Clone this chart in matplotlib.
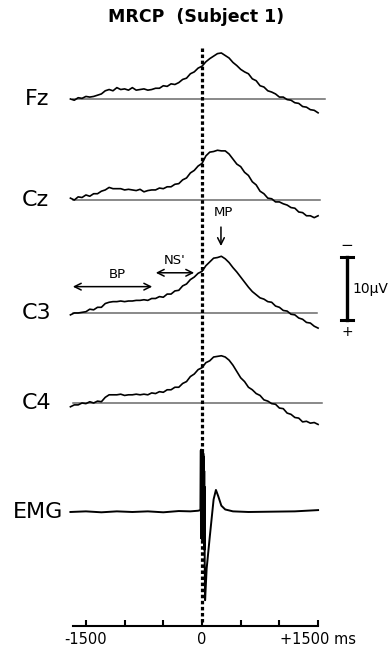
import numpy as np
import matplotlib
matplotlib.use('Agg')
import matplotlib.pyplot as plt

# sample times (ms) for the MRCP traces
times = np.arange(-1700, 1501, 50)

# averaged potentials in µV (negativity plotted upwards)
fz = [0.0, -0.2, 0.2, 0.1, 0.4, 0.3, 0.4, 0.6, 0.8, 1.3,
      1.5, 1.3, 1.8, 1.5, 1.6, 1.4, 1.8, 1.4, 1.5, 1.6,
      1.4, 1.5, 1.7, 1.7, 2.1, 2.0, 2.4, 2.3, 2.6, 3.1,
      3.3, 4.0, 4.3, 4.9, 5.2, 5.9, 6.4, 6.8, 7.2, 7.3,
      6.9, 6.5, 5.8, 5.3, 4.7, 4.3, 4.0, 3.2, 2.9, 2.1,
      1.9, 1.3, 1.1, 0.8, 0.3, 0.3, -0.1, -0.2, -0.6, -0.7,
      -1.2, -1.3, -1.7, -1.8, -2.2]
cz = [0.3, 0.0, 0.5, 0.4, 0.8, 0.6, 1.0, 1.0, 1.4, 1.6,
      2.0, 1.8, 1.8, 1.8, 1.6, 1.7, 1.6, 1.5, 1.7, 1.3,
      1.5, 1.6, 1.6, 1.9, 1.8, 2.1, 2.1, 2.5, 2.6, 3.2,
      3.5, 4.3, 4.7, 5.4, 5.8, 7.0, 7.6, 7.7, 7.9, 7.8,
      7.8, 7.3, 6.5, 5.7, 5.3, 4.4, 3.9, 2.9, 2.4, 1.4,
      1.0, 0.3, 0.2, -0.3, -0.3, -0.6, -0.8, -1.2, -1.3, -1.9,
      -2.0, -2.5, -2.5, -2.8, -2.5]
c3 = [-0.3, 0.0, 0.0, 0.1, 0.2, 0.6, 0.5, 0.9, 0.9, 1.5,
      1.7, 1.8, 1.8, 1.9, 1.8, 1.9, 1.9, 2.0, 2.0, 2.1,
      2.0, 2.3, 2.3, 2.6, 2.5, 3.0, 3.0, 3.5, 3.6, 4.3,
      4.6, 5.3, 5.7, 6.3, 6.6, 7.5, 8.1, 8.7, 8.8, 9.0,
      8.6, 8.0, 7.2, 6.5, 5.7, 4.9, 4.1, 3.4, 2.9, 2.4,
      2.2, 1.8, 1.7, 1.1, 0.9, 0.4, 0.3, -0.2, -0.3, -0.8,
      -1.0, -1.5, -1.6, -2.1, -2.4]
c4 = [-0.6, -0.3, -0.3, 0.0, -0.1, 0.2, 0.0, 0.3, 0.2, 0.9,
      1.3, 1.3, 1.3, 1.4, 1.2, 1.3, 1.3, 1.4, 1.3, 1.4,
      1.3, 1.6, 1.5, 1.8, 1.7, 2.1, 2.1, 2.5, 2.5, 3.1,
      3.4, 4.2, 4.6, 5.3, 5.6, 6.4, 6.7, 7.3, 7.4, 7.5,
      7.3, 6.8, 6.0, 5.0, 4.0, 3.4, 2.5, 2.1, 1.5, 1.2,
      0.5, 0.3, -0.1, -0.2, -0.8, -0.9, -1.6, -1.8, -2.3, -2.4,
      -3.0, -2.9, -3.2, -3.1, -3.4]

# EMG (arbitrary units, same vertical scale)
emg_t = [-1700, -1500, -1300, -1100, -900, -700, -500, -300, -150, -50,
         -20, -15, -13, -11, -9, -7, -5, -3, -1, 1, 3, 5, 7, 9, 11, 13,
         15, 17, 19, 21, 23, 25, 27, 29, 31, 33, 35, 40, 60, 100, 150,
         180, 210, 250, 300, 400, 600, 900, 1200, 1500]
emg_v = [0.0, 0.1, -0.05, 0.1, 0.0, 0.1, -0.05, 0.15, 0.1, 0.2,
         0.3, 9.8, -4.0, 9.9, -4.2, 9.7, -3.9, 9.8, -4.3, 9.6, -4.0, 9.8,
         -4.1, 9.5, -3.8, 9.7, -4.2, 9.3, -4.5, 8.8, -4.6, 8.0, -5.0, 6.5,
         -6.0, 4.0, -8.0, -14.0, -9.0, -4.0, 2.0,
         3.5, 2.5, 1.0, 0.4, 0.1, 0.0, 0.05, 0.1, 0.3]

names = ['Fz', 'Cz', 'C3', 'C4', 'EMG']
traces = [fz, cz, c3, c4]

# layout: vertical offsets in µV units (6.3 px per µV), label x in px
offsets = [15.71, 31.75, 49.68, 63.97, 81.27]
label_x = [25, 22, 22, 22, 13]
base_end = [1590, 1520, 1490, 1550]

fig = plt.figure(figsize=(3.92, 6.48), dpi=100)
ax = fig.add_axes([0, 0, 1, 1])
ax.set_xlim(-2610, 2455)
ax.set_ylim(102.86, 0)

for vals, off, end in zip(traces, offsets, base_end):
    ax.plot([-1670, end], [off, off], color='#6a6a6a', lw=1.1)
    ax.plot(times, off - np.array(vals), color='black', lw=1.2)

ax.plot(emg_t, offsets[4] - np.array(emg_v), color='black', lw=1.4)

ytr = ax.get_yaxis_transform()
for name, off, lx in zip(names, offsets, label_x):
    ax.text(lx / 392, off, name, transform=ytr, fontsize=16,
            va='center', ha='left')

# movement onset
ax.plot([0, 0], [7.6, 98.7], color='black', lw=2.3, ls=(0, (1.1, 0.8)))

# component annotations
ax.text(271, 33.8, 'MP', fontsize=9.5, ha='center', va='center')
ax.annotate('', xy=(245, 39.5), xytext=(245, 35.6),
            arrowprops=dict(arrowstyle='->', lw=1.1, mutation_scale=12))
ax.text(-349, 41.3, "NS'", fontsize=9.5, ha='center', va='center')
ax.annotate('', xy=(-633, 43.3), xytext=(-65, 43.3),
            arrowprops=dict(arrowstyle='<->', lw=1.1, mutation_scale=12))
ax.text(-1098, 43.65, 'BP', fontsize=9.5, ha='center', va='center')
ax.annotate('', xy=(-1705, 45.5), xytext=(-607, 45.5),
            arrowprops=dict(arrowstyle='<->', lw=1.1, mutation_scale=12))

# 10 µV calibration bar
bar_x, bar_top, bar_uv = 1873, 40.8, 10
ax.plot([bar_x, bar_x], [bar_top, bar_top + bar_uv], color='black', lw=2.4)
for yy in (bar_top, bar_top + bar_uv):
    ax.plot([bar_x - 80, bar_x + 80], [yy, yy], color='black', lw=2.2)
ax.text(bar_x, bar_top - 1.9, '\u2212', fontsize=11, ha='center', va='center')
ax.text(bar_x, bar_top + bar_uv + 1.9, '+', fontsize=10, ha='center', va='center')
ax.text(bar_x + 65, bar_top + bar_uv / 2, '10\u00b5V', fontsize=10,
        ha='left', va='center')

fig.text(0.5, 1 - 17 / 648, 'MRCP  (Subject 1)', fontsize=12.5,
         fontweight='bold', ha='center', va='center')

# time axis
for s in ['top', 'left', 'right']:
    ax.spines[s].set_visible(False)
ax.spines['bottom'].set_position(('data', 99.37))
ax.spines['bottom'].set_bounds(-1670, 1500)
ax.spines['bottom'].set_linewidth(1.5)
ax.set_yticks([])
ax.set_xticks([-1500, -1000, -500, 0, 500, 1000, 1500])
ax.set_xticklabels(['-1500', '', '', '0', '', '', '+1500 ms'])
ax.tick_params(axis='x', direction='in', length=4, width=1.5,
               labelsize=10.5, pad=4)
ax.patch.set_visible(False)

fig.savefig('out.png', dpi=100)
